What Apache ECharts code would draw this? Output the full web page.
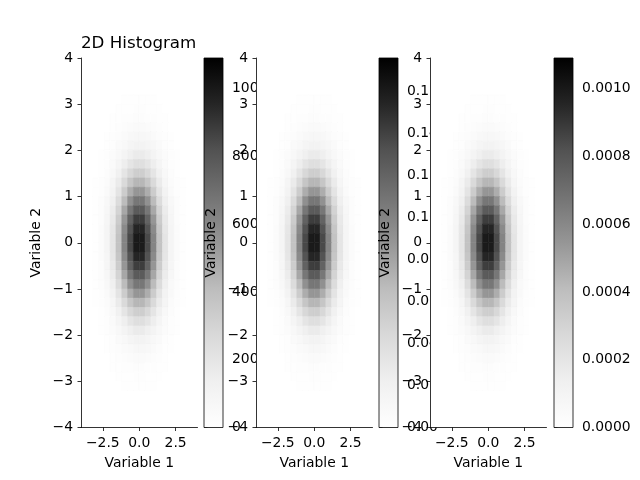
<!DOCTYPE html>
<html>
<head>
<meta charset="utf-8">
<title>2D Histogram</title>
<script src="https://cdn.jsdelivr.net/npm/echarts@6/dist/echarts.min.js"></script>
<style>
  html, body { margin: 0; padding: 0; background: #fff; }
  #chart { width: 640px; height: 480px; }
</style>
</head>
<body>
<div id="chart"></div>
<script>
// cell centres (Variable 1 across, Variable 2 top to bottom)
var xCenters = [-3.0, -2.6, -2.2, -1.8, -1.4, -1.0, -0.6, -0.2, 0.2, 0.6, 1.0, 1.4, 1.8, 2.2, 2.6, 3.0];
var yCenters = [3.1, 2.9, 2.7, 2.5, 2.3, 2.1, 1.9, 1.7, 1.5, 1.3, 1.1, 0.9, 0.7, 0.5, 0.3, 0.1,
                -0.1, -0.3, -0.5, -0.7, -0.9, -1.1, -1.3, -1.5, -1.7, -1.9, -2.1, -2.3, -2.5, -2.7, -2.9, -3.1];
var cellW = 0.4, cellH = 0.2;

// counts per bin, one row per yCenters entry
var counts = [
  [0,0,1,2,3,5,7,8,8,7,5,3,2,1,0,0],
  [0,1,1,3,6,9,13,15,15,13,9,6,3,1,1,0],
  [0,1,2,5,10,16,22,25,26,22,16,10,5,2,1,0],
  [0,2,4,9,17,27,38,44,45,37,28,17,9,4,2,0],
  [1,2,6,14,27,44,60,71,70,61,43,27,14,6,2,1],
  [1,4,10,22,42,68,94,110,111,93,69,42,22,10,4,1],
  [2,6,15,33,63,101,139,164,163,140,100,62,33,15,6,2],
  [3,8,21,48,90,146,200,235,236,199,147,89,48,21,8,3],
  [4,11,29,66,124,201,276,324,325,275,202,123,65,30,11,4],
  [5,15,39,87,164,266,366,429,430,365,267,163,86,39,15,5],
  [6,19,49,110,208,337,464,545,546,463,338,207,111,49,19,6],
  [7,23,60,134,255,412,567,665,666,566,413,254,135,60,23,7],
  [9,27,71,158,299,484,665,781,780,666,483,300,157,71,27,9],
  [10,31,80,178,337,545,750,880,881,749,546,336,179,80,31,10],
  [11,33,87,193,365,591,812,954,953,813,590,366,192,87,33,11],
  [11,34,90,201,380,615,846,993,994,845,616,379,202,90,34,11],
  [11,34,91,200,381,614,847,995,992,846,615,380,201,89,34,11],
  [11,33,86,194,364,592,811,955,952,812,591,365,193,88,33,11],
  [10,31,81,177,338,544,751,879,880,750,545,337,178,79,31,10],
  [9,27,70,159,298,485,664,782,779,665,484,299,158,72,27,9],
  [7,23,61,133,256,411,568,664,667,567,412,255,134,59,23,7],
  [6,19,48,111,207,338,463,546,544,464,336,208,110,50,19,6],
  [5,15,40,86,165,265,367,428,431,366,266,164,87,38,15,5],
  [4,11,29,65,125,200,277,323,326,276,201,124,66,29,11,4],
  [3,8,22,47,91,145,201,234,235,200,146,90,47,21,8,3],
  [2,6,15,34,62,102,138,165,164,139,101,63,32,15,6,2],
  [1,4,10,22,43,67,95,109,110,94,68,41,22,10,4,1],
  [1,2,6,14,26,45,59,72,71,60,44,28,13,6,2,1],
  [0,2,4,9,17,26,39,43,44,38,27,16,9,4,2,0],
  [0,1,2,5,10,16,21,26,25,22,15,10,5,2,1,0],
  [0,1,1,3,6,9,13,14,15,12,9,6,3,1,1,0],
  [0,0,1,2,3,5,7,8,8,7,5,3,2,1,0,0]
];

var sampleCount = 1e6;     // number of samples
var binArea = 0.0062;      // area of one original bin
var countMax = 1090;       // top of first colour bar

var xTicks = [-2.5, 0, 2.5];
var countTicks = [0, 200, 400, 600, 800, 1000];
var densityTicks = [0, 0.02, 0.04, 0.06, 0.08, 0.10, 0.12, 0.14, 0.16];
var probTicks = [0, 0.0002, 0.0004, 0.0006, 0.0008, 0.0010];

var greys = ['#ffffff', '#f0f0f0', '#d9d9d9', '#bdbdbd', '#969696', '#737373', '#525252', '#252525', '#000000'];
var FONT = 'DejaVu Sans';
var FS = 13.9;

function minus(s) { return String(s).replace('-', '\u2212'); }

// one data table per panel: raw counts, density, probability
function buildCells(scale) {
  var out = [];
  for (var r = 0; r < yCenters.length; r++) {
    for (var c = 0; c < xCenters.length; c++) {
      out.push([xCenters[c], yCenters[r], counts[r][c] * scale]);
    }
  }
  return out;
}
var scales = [1, 1 / (sampleCount * binArea), 1 / sampleCount];
var barMax = [countMax, countMax / (sampleCount * binArea), countMax / sampleCount];
var barTicks = [countTicks, densityTicks, probTicks];
var barDigits = [0, 2, 4];

var plotLeft = [81, 256, 430];
var barLeft = [204, 379, 554];
var plotTop = 58, plotH = 369.5, plotW = 116.5, barW = 19;

function renderCell(params, api) {
  var x = api.value(0), y = api.value(1);
  var p0 = api.coord([x - cellW / 2, y + cellH / 2]);
  var p1 = api.coord([x + cellW / 2, y - cellH / 2]);
  var col = api.visual('color');
  return {
    type: 'rect',
    shape: { x: p0[0], y: p0[1], width: p1[0] - p0[0], height: p1[1] - p0[1] },
    style: { fill: col, stroke: col, lineWidth: 0.6 }
  };
}

// white face of a plot, hides colour bar labels that run into it
function renderFace(params, api) {
  var p0 = api.coord([-4, 4]);
  var p1 = api.coord([4, -4]);
  return {
    type: 'rect',
    shape: { x: p0[0], y: p0[1], width: p1[0] - p0[0], height: p1[1] - p0[1] },
    style: { fill: '#ffffff' }
  };
}

function renderBar(k) {
  return function (params, api) {
    var p0 = api.coord([0, barMax[k]]);
    var p1 = api.coord([1, 0]);
    var stops = greys.map(function (c, i) { return { offset: i / (greys.length - 1), color: c }; });
    return {
      type: 'rect',
      shape: { x: p0[0], y: p0[1], width: p1[0] - p0[0], height: p1[1] - p0[1] },
      style: {
        fill: new echarts.graphic.LinearGradient(0, 1, 0, 0, stops),
        stroke: '#000', lineWidth: 0.8
      }
    };
  };
}

var grids = [], xAxes = [], yAxes = [], series = [], visualMaps = [];
var axisLineStyle = { color: '#000', width: 0.8 };

for (var k = 0; k < 3; k++) {
  grids.push({ left: plotLeft[k], top: plotTop, width: plotW, height: plotH, outerBoundsMode: 'none', containLabel: false });
  grids.push({ left: barLeft[k], top: plotTop, width: barW, height: plotH, outerBoundsMode: 'none', containLabel: false });
}

for (var k = 0; k < 3; k++) {
  var g = 2 * k, gb = 2 * k + 1;
  xAxes.push({
    gridIndex: g, type: 'value', min: -4, max: 4, z: 10,
    name: 'Variable 1', nameLocation: 'middle', nameGap: 29,
    nameTextStyle: { color: '#000', fontFamily: FONT, fontSize: FS },
    axisLine: { show: true, onZero: false, lineStyle: axisLineStyle },
    axisTick: { show: true, length: 3.5, lineStyle: axisLineStyle, customValues: xTicks },
    axisLabel: { margin: 9, color: '#000', fontFamily: FONT, fontSize: FS, customValues: xTicks,
      formatter: function (v) { return minus(v.toFixed(1)); } },
    splitLine: { show: false }
  });
  yAxes.push({
    gridIndex: g, type: 'value', min: -4, max: 4, interval: 1, z: 10,
    name: 'Variable 2', nameLocation: 'middle', nameGap: 38,
    nameTextStyle: { color: '#000', fontFamily: FONT, fontSize: FS },
    axisLine: { show: true, onZero: false, lineStyle: axisLineStyle },
    axisTick: { show: true, length: 3.5, lineStyle: axisLineStyle },
    axisLabel: { margin: 8, color: '#000', fontFamily: FONT, fontSize: FS,
      formatter: function (v) { return minus(v); } },
    splitLine: { show: false }
  });
  xAxes.push({ gridIndex: gb, type: 'value', min: 0, max: 1, show: false });
  (function (kk) {
    yAxes.push({
      gridIndex: gb, type: 'value', min: 0, max: barMax[kk], position: 'right', z: 1,
      name: kk === 2 ? 'Probability' : '', nameLocation: 'middle', nameGap: 76,
      nameTextStyle: { color: '#000', fontFamily: FONT, fontSize: FS },
      axisLine: { show: false },
      axisTick: { show: true, length: 3.5, lineStyle: axisLineStyle, customValues: barTicks[kk] },
      axisLabel: { margin: 9, color: '#000', fontFamily: FONT, fontSize: FS, customValues: barTicks[kk],
        formatter: function (v) { return v.toFixed(barDigits[kk]); } },
      splitLine: { show: false }
    });
  })(k);

  series.push({
    type: 'custom', name: 'hist' + k, xAxisIndex: g, yAxisIndex: g, z: 8,
    dimensions: ['x', 'y', 'v'], encode: { x: 0, y: 1 },
    renderItem: renderCell, clip: true, silent: true,
    data: buildCells(scales[k])
  });
  visualMaps.push({
    type: 'continuous', show: false, seriesIndex: k, dimension: 2,
    min: 0, max: barMax[k], inRange: { color: greys }
  });
}
for (var k = 0; k < 3; k++) {
  series.push({
    type: 'custom', name: 'bar' + k, xAxisIndex: 2 * k + 1, yAxisIndex: 2 * k + 1, z: 3,
    renderItem: renderBar(k), silent: true, data: [[0, 0]]
  });
}
for (var k = 1; k < 3; k++) {
  series.push({
    type: 'custom', name: 'face' + k, xAxisIndex: 2 * k, yAxisIndex: 2 * k, z: 5,
    renderItem: renderFace, silent: true, clip: false, data: [[0, 0]]
  });
}

var chart = echarts.init(document.getElementById('chart'), null, { renderer: 'canvas' });
chart.setOption({
  animation: false,
  backgroundColor: '#ffffff',
  title: {
    text: '2D Histogram', left: 81, top: 35, padding: 0,
    textStyle: { color: '#000', fontFamily: FONT, fontSize: 16.7, fontWeight: 'normal' }
  },
  grid: grids,
  xAxis: xAxes,
  yAxis: yAxes,
  visualMap: visualMaps,
  series: series
});
</script>
</body>
</html>
